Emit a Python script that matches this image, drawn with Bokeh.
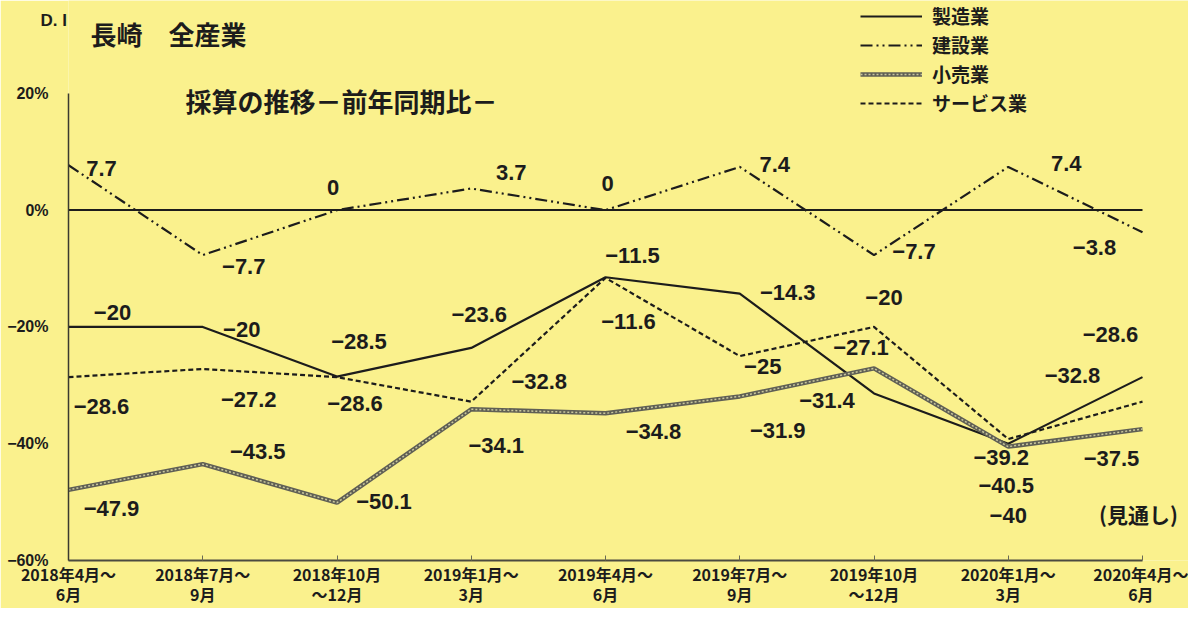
from bokeh.plotting import figure
from bokeh.models import (Range1d, FixedTicker, Label, Legend, LegendItem,
                          ColumnDataSource)
from bokeh.embed import file_html
from bokeh.resources import INLINE
from bokeh.core.properties import value

# ---------------- data ----------------
periods = ["2018年4月～\n6月", "2018年7月～\n9月", "2018年10月\n～12月",
           "2019年1月～\n3月", "2019年4月～\n6月", "2019年7月～\n9月",
           "2019年10月\n～12月", "2020年1月～\n3月", "2020年4月～\n6月"]
manufacturing = [-20, -20, -28.5, -23.6, -11.5, -14.3, -31.4, -40, -28.6]
construction = [7.7, -7.7, 0, 3.7, 0, 7.4, -7.7, 7.4, -3.8]
retail = [-47.9, -43.5, -50.1, -34.1, -34.8, -31.9, -27.1, -40.5, -37.5]
services = [-28.6, -27.2, -28.6, -32.8, -11.6, -25, -20, -39.2, -32.8]
series_names = ["製造業", "建設業", "小売業", "サービス業"]
y_ticks = [-60, -40, -20, 0, 20]
y_tick_labels = ["−60%", "−40%", "−20%", "0%", "20%"]

# label offsets in screen pixels (dx right, dy down)
off_construction = [(33, 3), (41, 11), (-4, -23), (40, -16), (2, -27), (35, -2), (40, -4), (58, -3), (-48, 15)]
off_manufacturing = [(44, -14), (39, 3), (22, -35), (8, -33), (27, -22), (48, -1), (-47, 7), (0, 72), (-32, -43)]
off_retail = [(43, 19), (55, -13), (47, -1), (25, 36), (48, 18), (38, 34), (-13, -21), (-2, 39), (-31, 29)]
off_services = [(33, 29), (46, 31), (18, 26), (68, -20), (23, 44), (23, 10), (10, -29), (-7, 18), (-70, -26)]

BG = "#FAF18D"
INK = "#1c1c1c"
JP = "Noto Sans CJK JP"
NUM = "Liberation Sans"

xs = list(range(len(periods)))
n = len(periods)

# frame: left edge at the y axis, right edge at canvas edge, top at canvas top
p = figure(width=1188, height=608, output_backend="svg", toolbar_location=None,
           x_range=Range1d(0, (n - 1) + 0.3426), y_range=Range1d(-60, 35.897),
           min_border_left=68, min_border_right=0, min_border_top=0, min_border_bottom=47)
p.background_fill_color = BG
p.border_fill_color = BG
p.outline_line_color = None
p.xgrid.visible = False
p.ygrid.visible = False

# axes
p.xaxis.ticker = FixedTicker(ticks=xs)
p.xaxis.bounds = (xs[0], xs[-1])
p.xaxis.major_label_overrides = {i: lab for i, lab in enumerate(periods)}
p.xaxis.major_label_text_font = JP
p.xaxis.major_label_text_font_style = "bold"
p.xaxis.major_label_text_font_size = "16px"
p.xaxis.major_label_text_color = INK
p.xaxis.major_label_text_line_height = 0.85
p.xaxis.major_label_standoff = 1
p.xaxis.major_tick_in = 5
p.xaxis.major_tick_out = 0
p.xaxis.major_tick_line_color = "#6a6a55"
p.xaxis.minor_tick_line_color = None
p.xaxis.axis_line_color = "#4a4a40"
p.xaxis.axis_line_width = 2

p.yaxis.ticker = FixedTicker(ticks=y_ticks)
p.yaxis.bounds = (y_ticks[0], y_ticks[-1])
p.yaxis.major_label_overrides = {t: l for t, l in zip(y_ticks, y_tick_labels)}
p.yaxis.major_label_text_font = NUM
p.yaxis.major_label_text_font_style = "bold"
p.yaxis.major_label_text_font_size = "16px"
p.yaxis.major_label_text_color = INK
p.yaxis.major_label_standoff = 20
p.yaxis.major_tick_in = 0
p.yaxis.major_tick_out = 0
p.yaxis.minor_tick_line_color = None
p.yaxis.axis_line_color = "#3a3a30"
p.yaxis.axis_line_width = 1.5

# zero line across the category span
p.line([xs[0], xs[-1]], [0, 0], line_color=INK, line_width=2)

# series lines
r_man = p.line(xs, manufacturing, line_color=INK, line_width=2.2)
r_con = p.line(xs, construction, line_color=INK, line_width=2.2, line_dash="12 4 2 4 2 4")
r_ret1 = p.line(xs, retail, line_color="#5f5f55", line_width=4.5)
r_ret2 = p.line(xs, retail, line_color="#c9c79c", line_width=1.5, line_dash="2 2")
r_ser = p.line(xs, services, line_color=INK, line_width=2.2, line_dash="5 3")

# value labels
def fmt(v):
    return f"{v:g}".replace("-", "−")

for vals, offs in [(construction, off_construction), (manufacturing, off_manufacturing),
                   (retail, off_retail), (services, off_services)]:
    src = ColumnDataSource(dict(x=xs, y=vals, t=[fmt(v) for v in vals],
                                dx=[o[0] for o in offs], dy=[o[1] for o in offs]))
    p.text(x="x", y="y", text="t", x_offset="dx", y_offset="dy", source=src,
           text_font=value(NUM), text_font_style="bold", text_font_size="22px",
           text_color=INK, text_align="center", text_baseline="middle")

# titles / notes
p.text(x=[-0.2086], y=[32.48], text=["D. I"], text_font=value(NUM),
       text_font_style="bold", text_font_size="17px", text_color=INK,
       text_baseline="middle", text_align="left", level="overlay")
p.add_layout(Label(x=0.164, y=30.26, text="長崎　全産業", text_font=JP,
                   text_font_style="bold", text_font_size="26px", text_color=INK,
                   text_baseline="middle", text_align="left"))
p.add_layout(Label(x=0.871, y=18.8, text="採算の推移－前年同期比－", text_font=JP,
                   text_font_style="bold", text_font_size="26px", text_color=INK,
                   text_baseline="middle", text_align="left"))
p.add_layout(Label(x=7.97, y=-52.0, text="(見通し)", text_font=JP,
                   text_font_style="bold", text_font_size="21px", text_color=INK,
                   text_baseline="middle", text_align="center"))

legend = Legend(items=[LegendItem(label=series_names[0], renderers=[r_man]),
                       LegendItem(label=series_names[1], renderers=[r_con]),
                       LegendItem(label=series_names[2], renderers=[r_ret1, r_ret2]),
                       LegendItem(label=series_names[3], renderers=[r_ser])],
                location=(792, 444), orientation="vertical",
                glyph_width=62, glyph_height=20, label_height=20, label_standoff=10,
                spacing=2, padding=0, margin=0,
                label_text_font=JP, label_text_font_style="bold",
                label_text_font_size="19px", label_text_color=INK,
                background_fill_alpha=0, border_line_alpha=0)
p.add_layout(legend)

open("out.html", "w").write(file_html(p, INLINE))
